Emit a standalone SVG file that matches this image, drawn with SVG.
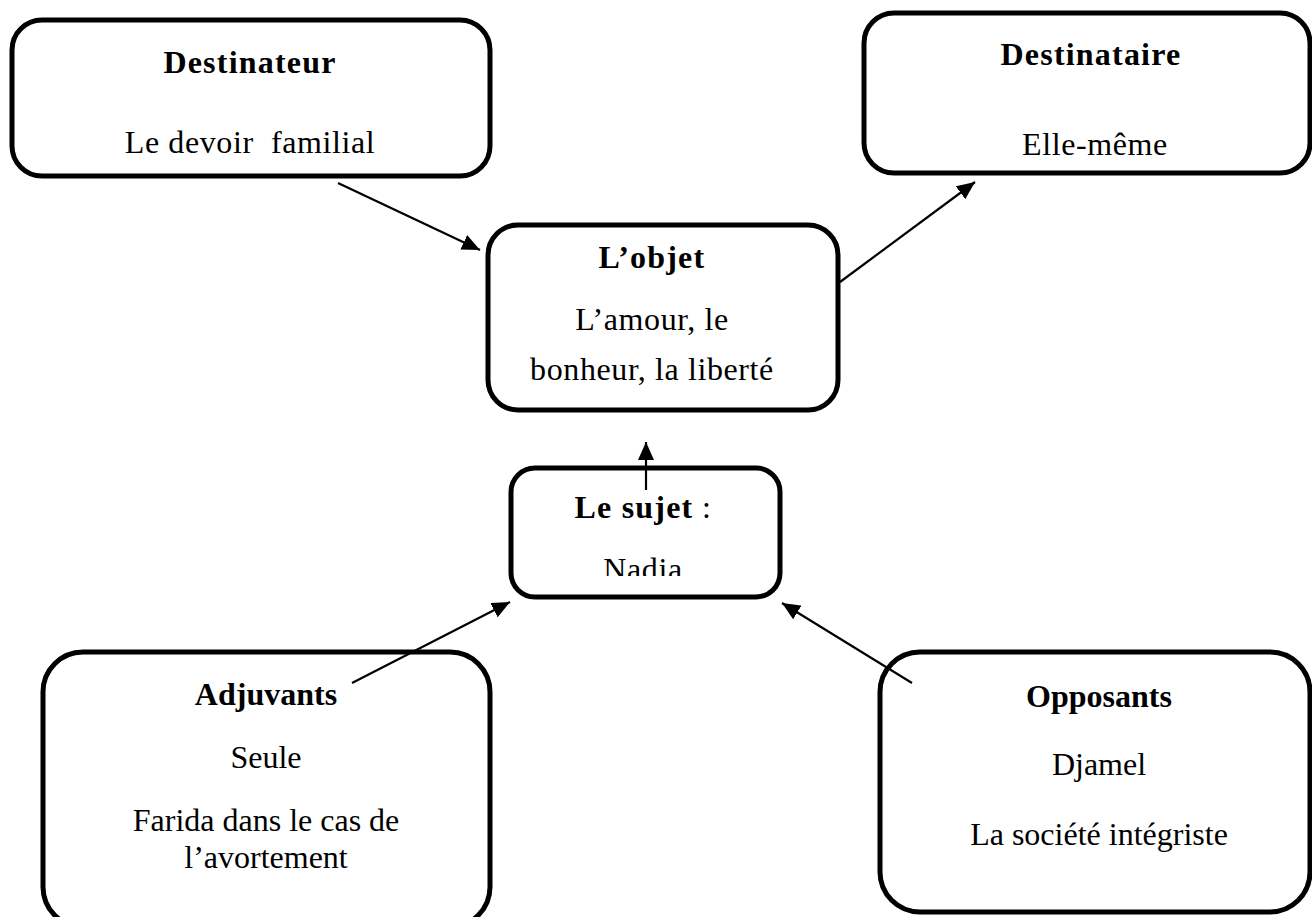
<svg xmlns="http://www.w3.org/2000/svg" width="1312" height="917" viewBox="0 0 1312 917">
<style>
.box{fill:#fff;stroke:#000;stroke-width:5}
.t{font-family:"Liberation Serif","Times New Roman",serif;fill:#000;text-anchor:middle;white-space:pre}
.g{font-size:32px;letter-spacing:0.6px}
.gb{font-size:32px;font-weight:bold;letter-spacing:1.2px}
.r{font-size:32px}
.rb{font-size:32px;font-weight:bold}
.c{stroke:#000;stroke-width:2.2;fill:none}
</style>
<defs>
<marker id="ah" markerUnits="userSpaceOnUse" markerWidth="20" markerHeight="16" refX="18" refY="8" orient="auto">
<path d="M0,0 L18,8 L0,16 Z" fill="#000"/>
</marker>
<clipPath id="clipSujet"><rect x="0" y="0" width="1312" height="576"/></clipPath>
</defs>
<rect width="1312" height="917" fill="#fff"/>
<g id="destinateur">
<rect class="box" x="12" y="20" width="478" height="156" rx="30"/>
<text class="t gb" x="250" y="73">Destinateur</text>
<text class="t g" x="250" y="153" xml:space="preserve">Le devoir  familial</text>
</g>
<g id="destinataire">
<rect class="box" x="864" y="13" width="446" height="160" rx="30"/>
<text class="t gb" x="1091" y="65">Destinataire</text>
<text class="t g" x="1095" y="155">Elle-même</text>
</g>
<g id="objet">
<rect class="box" x="488" y="225" width="350" height="185" rx="30"/>
<text class="t gb" x="652" y="268">L’objet</text>
<text class="t g" x="652" y="330">L’amour, le</text>
<text class="t g" x="652" y="380">bonheur, la liberté</text>
</g>
<g id="sujet">
<rect class="box" x="511" y="468" width="269" height="129" rx="24"/>
<text class="t g" x="643" y="518"><tspan font-weight="bold" letter-spacing="1.2px">Le sujet</tspan> :</text>
<text class="t g" x="643" y="580" clip-path="url(#clipSujet)">Nadia</text>
</g>
<g id="adjuvants">
<rect class="box" x="43" y="652" width="447" height="275" rx="40"/>
<text class="t rb" x="266" y="705">Adjuvants</text>
<text class="t r" x="266" y="768">Seule</text>
<text class="t r" x="266" y="831">Farida dans le cas de</text>
<text class="t r" x="266" y="868">l’avortement</text>
</g>
<g id="opposants">
<rect class="box" x="880" y="652" width="430" height="260" rx="40"/>
<text class="t rb" x="1099" y="707">Opposants</text>
<text class="t r" x="1099" y="775">Djamel</text>
<text class="t r" x="1099" y="845">La société intégriste</text>
</g>
<g id="connectors">
<line class="c" x1="338" y1="183" x2="480" y2="250" marker-end="url(#ah)"/>
<line class="c" x1="840" y1="282" x2="975" y2="182" marker-end="url(#ah)"/>
<line class="c" x1="646" y1="490" x2="646" y2="442" marker-end="url(#ah)"/>
<line class="c" x1="352" y1="683" x2="510" y2="602" marker-end="url(#ah)"/>
<line class="c" x1="912" y1="683" x2="782" y2="603" marker-end="url(#ah)"/>
</g>
</svg>
